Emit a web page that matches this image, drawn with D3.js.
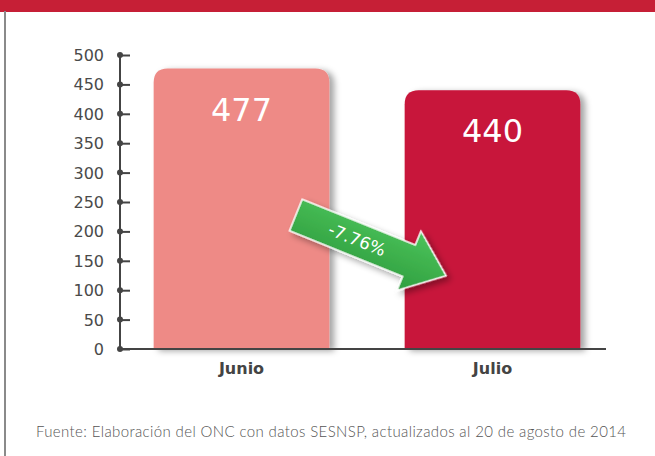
<!DOCTYPE html>
<html lang="es">
<head>
<meta charset="UTF-8" />
<script src="https://d3js.org/d3.v7.min.js"></script>
<title>Junio - Julio</title>
<style>
  body { margin: 0; background: #fff; }
</style>
</head>
<body>
<script type="text/javascript">
// datos
var categories = ["Junio", "Julio"];
var values = [477, 440];
var barColors = ["#ee8a86", "#c8163a"];
var yTicks = [0, 50, 100, 150, 200, 250, 300, 350, 400, 450, 500];
var changeLabel = "-7.76%";
var source = "Fuente: Elaboración del ONC con datos SESNSP, actualizados al 20 de agosto de 2014";

var width = 655, height = 456;

var svg = d3.select("body").append("svg")
  .attr("width", width).attr("height", height);

var defs = svg.append("defs");
var f = defs.append("filter").attr("id", "shadow")
  .attr("x", "-10%").attr("y", "-10%").attr("width", "130%").attr("height", "130%");
f.append("feDropShadow").attr("dx", 5).attr("dy", 2)
  .attr("stdDeviation", 3).attr("flood-color", "#000").attr("flood-opacity", 0.35);

var g1 = defs.append("linearGradient").attr("id", "green")
  .attr("x1", 0).attr("y1", 0).attr("x2", 0).attr("y2", 1);
g1.append("stop").attr("offset", "0%").attr("stop-color", "#4cc35a");
g1.append("stop").attr("offset", "100%").attr("stop-color", "#2f9e3f");

// franja superior y borde
svg.append("rect").attr("x", 0).attr("y", 0).attr("width", width).attr("height", 12)
  .attr("fill", "#c61f36");
svg.append("line").attr("x1", 5).attr("x2", 5).attr("y1", 11).attr("y2", height)
  .attr("stroke", "#8a8a8a").attr("stroke-width", 2);

var y = d3.scaleLinear().domain([0, 500]).range([349, 55]);
var x = d3.scaleBand().domain(categories).range([116, 618])
  .paddingInner(0.3).paddingOuter(0.15);

// barras con esquinas superiores redondeadas
function barPath(x0, w, yTop, yBase, r) {
  return "M" + x0 + "," + yBase +
    "V" + (yTop + r) +
    "Q" + x0 + "," + yTop + " " + (x0 + r) + "," + yTop +
    "H" + (x0 + w - r) +
    "Q" + (x0 + w) + "," + yTop + " " + (x0 + w) + "," + (yTop + r) +
    "V" + yBase + "Z";
}

svg.selectAll("path.bar").data(values).enter().append("path")
  .attr("class", "bar")
  .attr("d", function(d, i) { return barPath(x(categories[i]), x.bandwidth(), y(d), y(0), 14); })
  .attr("fill", function(d, i) { return barColors[i]; })
  .attr("filter", "url(#shadow)");

svg.selectAll("text.val").data(values).enter().append("text")
  .attr("class", "val")
  .attr("x", function(d, i) { return x(categories[i]) + x.bandwidth() / 2; })
  .attr("y", function(d) { return y(d) + 52; })
  .attr("text-anchor", "middle")
  .attr("font-family", "DejaVu Sans")
  .attr("font-size", 32)
  .attr("fill", "#fff")
  .text(function(d) { return d; });

// eje y
var yAxis = svg.append("g").attr("transform", "translate(120,0)")
  .call(d3.axisRight(y).tickValues(yTicks).tickSize(10).tickFormat(""));
yAxis.select(".domain").remove();
yAxis.selectAll(".tick line").attr("stroke", "#444").attr("stroke-width", 2);

svg.append("line").attr("x1", 120).attr("x2", 120).attr("y1", y(500)).attr("y2", y(0))
  .attr("stroke", "#444").attr("stroke-width", 2);
svg.append("line").attr("x1", 120).attr("x2", 606).attr("y1", y(0)).attr("y2", y(0))
  .attr("stroke", "#444").attr("stroke-width", 2);

svg.selectAll("circle.dot").data(yTicks).enter().append("circle")
  .attr("class", "dot")
  .attr("cx", 120).attr("cy", function(d) { return y(d); }).attr("r", 3)
  .attr("fill", "#444");

svg.selectAll("text.ylab").data(yTicks).enter().append("text")
  .attr("class", "ylab")
  .attr("x", 104).attr("y", function(d) { return y(d) + 6; })
  .attr("text-anchor", "end")
  .attr("font-family", "DejaVu Sans")
  .attr("font-size", 16)
  .attr("fill", "#4a4a4a")
  .text(function(d) { return d; });

// eje x
svg.selectAll("text.xlab").data(categories).enter().append("text")
  .attr("class", "xlab")
  .attr("x", function(d) { return x(d) + x.bandwidth() / 2; })
  .attr("y", 374)
  .attr("text-anchor", "middle")
  .attr("font-family", "DejaVu Sans")
  .attr("font-weight", "bold")
  .attr("font-size", 16)
  .attr("fill", "#444")
  .text(function(d) { return d; });

// flecha de cambio
var arrow = svg.append("g").attr("transform", "translate(370,245) rotate(22)");
arrow.append("path")
  .attr("d", "M-80,-17H42V-32L82,0L42,32V17H-80Z")
  .attr("fill", "url(#green)")
  .attr("stroke", "#fff").attr("stroke-width", 1.5)
  .attr("filter", "url(#shadow)");
arrow.append("text")
  .attr("x", -14).attr("y", 6)
  .attr("text-anchor", "middle")
  .attr("font-family", "DejaVu Sans")
  .attr("font-size", 17)
  .attr("fill", "#fff")
  .text(changeLabel);

// fuente
svg.append("text")
  .attr("x", 331).attr("y", 437)
  .attr("text-anchor", "middle")
  .attr("font-family", "Lato")
  .attr("font-weight", 300)
  .attr("font-size", 15)
  .attr("textLength", 590)
  .attr("lengthAdjust", "spacing")
  .attr("fill", "#555")
  .text(source);
</script>
</body>
</html>
